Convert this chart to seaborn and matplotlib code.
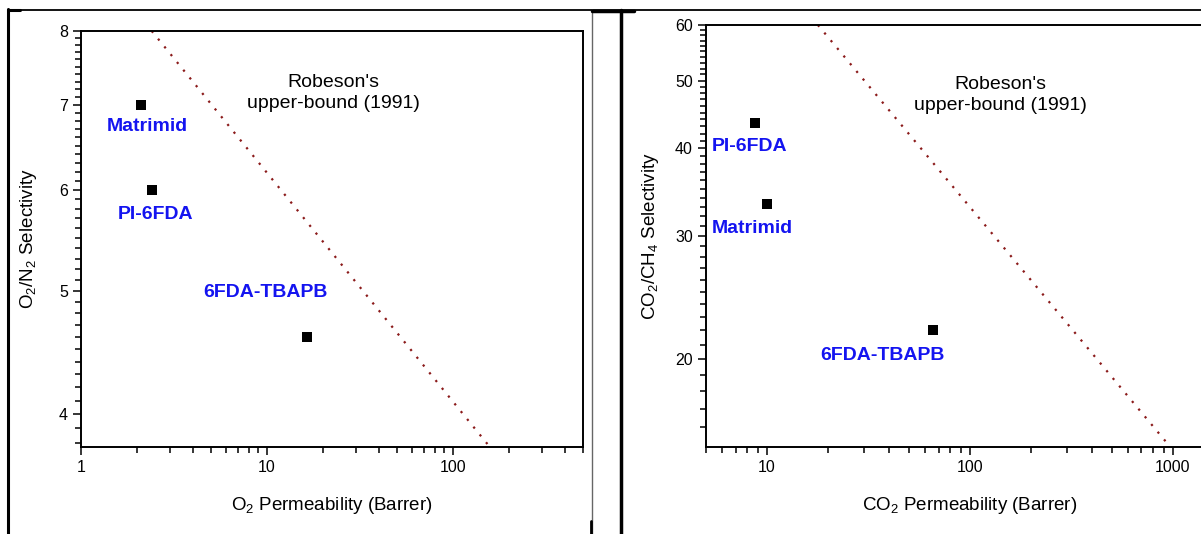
import numpy as np
import pandas as pd
import seaborn as sns
import matplotlib
import matplotlib.pyplot as plt
from matplotlib import ticker
from matplotlib.lines import Line2D
plt.switch_backend('agg')

# O2/N2 panel
o2_names = ["Matrimid", "PI-6FDA", "6FDA-TBAPB"]
o2_perm = [2.1, 2.4, 16.5]
o2n2_sel = [7.0, 6.0, 4.6]
robeson_o2_perm = [2.4, 170.0]
robeson_o2_sel = [8.0, 3.72]

# CO2/CH4 panel
co2_names = ["PI-6FDA", "Matrimid", "6FDA-TBAPB"]
co2_perm = [8.7, 10.0, 66.0]
co2ch4_sel = [43.5, 33.3, 22.0]
robeson_co2_perm = [17.8, 990.0]
robeson_co2_sel = [60.0, 14.9]

sns.set_style('ticks')
plt.rcParams['font.family'] = ['Liberation Sans', 'DejaVu Sans']
plt.rcParams['mathtext.fontset'] = 'custom'
plt.rcParams['mathtext.rm'] = 'Liberation Sans'
plt.rcParams['mathtext.it'] = 'Liberation Sans:italic'
plt.rcParams['mathtext.default'] = 'regular'
plt.rcParams['text.color'] = 'black'
plt.rcParams['axes.labelcolor'] = 'black'

W, H = 1201, 534
fig = plt.figure(figsize=(W / 100, H / 100), dpi=100)
fig.patch.set_facecolor('white')


def px_box(x0, y0, x1, y1):
    # pixel box (top-left origin) -> figure fraction [l, b, w, h]
    return [x0 / W, 1 - y1 / H, (x1 - x0) / W, (y1 - y0) / H]


ax1 = fig.add_axes(px_box(81, 31, 583, 447))
ax2 = fig.add_axes(px_box(706, 25, 1234, 447))

blue = '#1414f0'
red = '#8b1a1a'


def style_axes(ax):
    ax.set_xscale('log')
    ax.set_yscale('log')
    for s in ax.spines.values():
        s.set_linewidth(1.4)
        s.set_color('black')
    ax.tick_params(which='both', direction='out', top=False, right=False,
                   labelsize=11.5, colors='black', width=1.1)
    ax.tick_params(which='major', length=6)
    ax.tick_params(which='minor', length=4)
    ax.xaxis.set_major_formatter(ticker.FuncFormatter(lambda v, p: '%g' % v))
    ax.xaxis.set_minor_formatter(ticker.NullFormatter())
    ax.yaxis.set_major_formatter(ticker.FuncFormatter(lambda v, p: '%g' % v))
    ax.yaxis.set_minor_formatter(ticker.NullFormatter())


def draw_panel(ax, names, perm, sel, rb_x, rb_y, offsets):
    df = pd.DataFrame({'perm': perm, 'sel': sel, 'name': names})
    rb = pd.DataFrame({'perm': rb_x, 'sel': rb_y})
    sns.lineplot(data=rb, x='perm', y='sel', ax=ax, color=red,
                 linestyle=(0, (1, 3.5)), linewidth=1.6)
    sns.scatterplot(data=df, x='perm', y='sel', ax=ax, marker='s', s=60,
                    color='black', edgecolor='black', linewidth=0, zorder=3)
    for (_, row), off in zip(df.iterrows(), offsets):
        ax.annotate(row['name'], (row['perm'], row['sel']), xytext=off,
                    textcoords='offset pixels', ha='center', va='center',
                    color=blue, fontsize=14, fontweight='bold')


# left panel
style_axes(ax1)
draw_panel(ax1, o2_names, o2_perm, o2n2_sel, robeson_o2_perm, robeson_o2_sel,
           [(6, -22), (4, -24), (-42, 44)])
ax1.set_xlim(1, 500)
ax1.set_ylim(3.77, 8)
ax1.yaxis.set_major_locator(ticker.FixedLocator([4, 5, 6, 7, 8]))
ax1.yaxis.set_minor_locator(ticker.FixedLocator(np.arange(3.8, 8.0, 0.1)))
ax1.xaxis.set_major_locator(ticker.FixedLocator([1, 10, 100]))
ax1.xaxis.set_minor_locator(ticker.LogLocator(base=10, subs=np.arange(2, 10)))
ax1.set_xlabel('O$_2$ Permeability (Barrer)', fontsize=13.5, labelpad=14)
ax1.set_ylabel('O$_2$/N$_2$ Selectivity', fontsize=13.5, labelpad=14)
ax1.text(0.502, 0.851, "Robeson's\nupper-bound (1991)", transform=ax1.transAxes,
         ha='center', va='center', fontsize=14, linespacing=1.35)

# right panel
style_axes(ax2)
draw_panel(ax2, co2_names, co2_perm, co2ch4_sel, robeson_co2_perm, robeson_co2_sel,
           [(-5, -24), (-15, -24), (-51, -25)])
ax2.set_xlim(5, 2000)
ax2.set_ylim(15, 60)
ax2.yaxis.set_major_locator(ticker.FixedLocator([20, 30, 40, 50, 60]))
ax2.yaxis.set_minor_locator(ticker.FixedLocator(np.arange(16, 60, 1)))
ax2.xaxis.set_major_locator(ticker.FixedLocator([10, 100, 1000]))
ax2.xaxis.set_minor_locator(ticker.LogLocator(base=10, subs=np.arange(2, 10)))
ax2.set_xlabel('CO$_2$ Permeability (Barrer)', fontsize=13.5, labelpad=14)
ax2.set_ylabel('CO$_2$/CH$_4$ Selectivity', fontsize=13.5, labelpad=10)
ax2.text(0.557, 0.834, "Robeson's\nupper-bound (1991)", transform=ax2.transAxes,
         ha='center', va='center', fontsize=14, linespacing=1.35)


# table-like frame lines around the two panels
def fig_line(x0, y0, x1, y1, lw, color='black'):
    fig.add_artist(Line2D([x0 / W, x1 / W], [1 - y0 / H, 1 - y1 / H],
                          transform=fig.transFigure, color=color, linewidth=lw))


fig_line(8, 9.5, W, 9.5, 1.3)
fig_line(8, 9, 8, H, 2.2)
fig_line(8, 10, 20, 10, 2.2)
fig_line(592, 10, 592, H, 1.0, color='#666666')
fig_line(591, 521, 591, H, 2.0)
fig_line(621, 10, 621, H, 2.5)
fig_line(592, 10.5, 634, 10.5, 2.5)

fig.savefig('out.png', dpi=100)
plt.close()
